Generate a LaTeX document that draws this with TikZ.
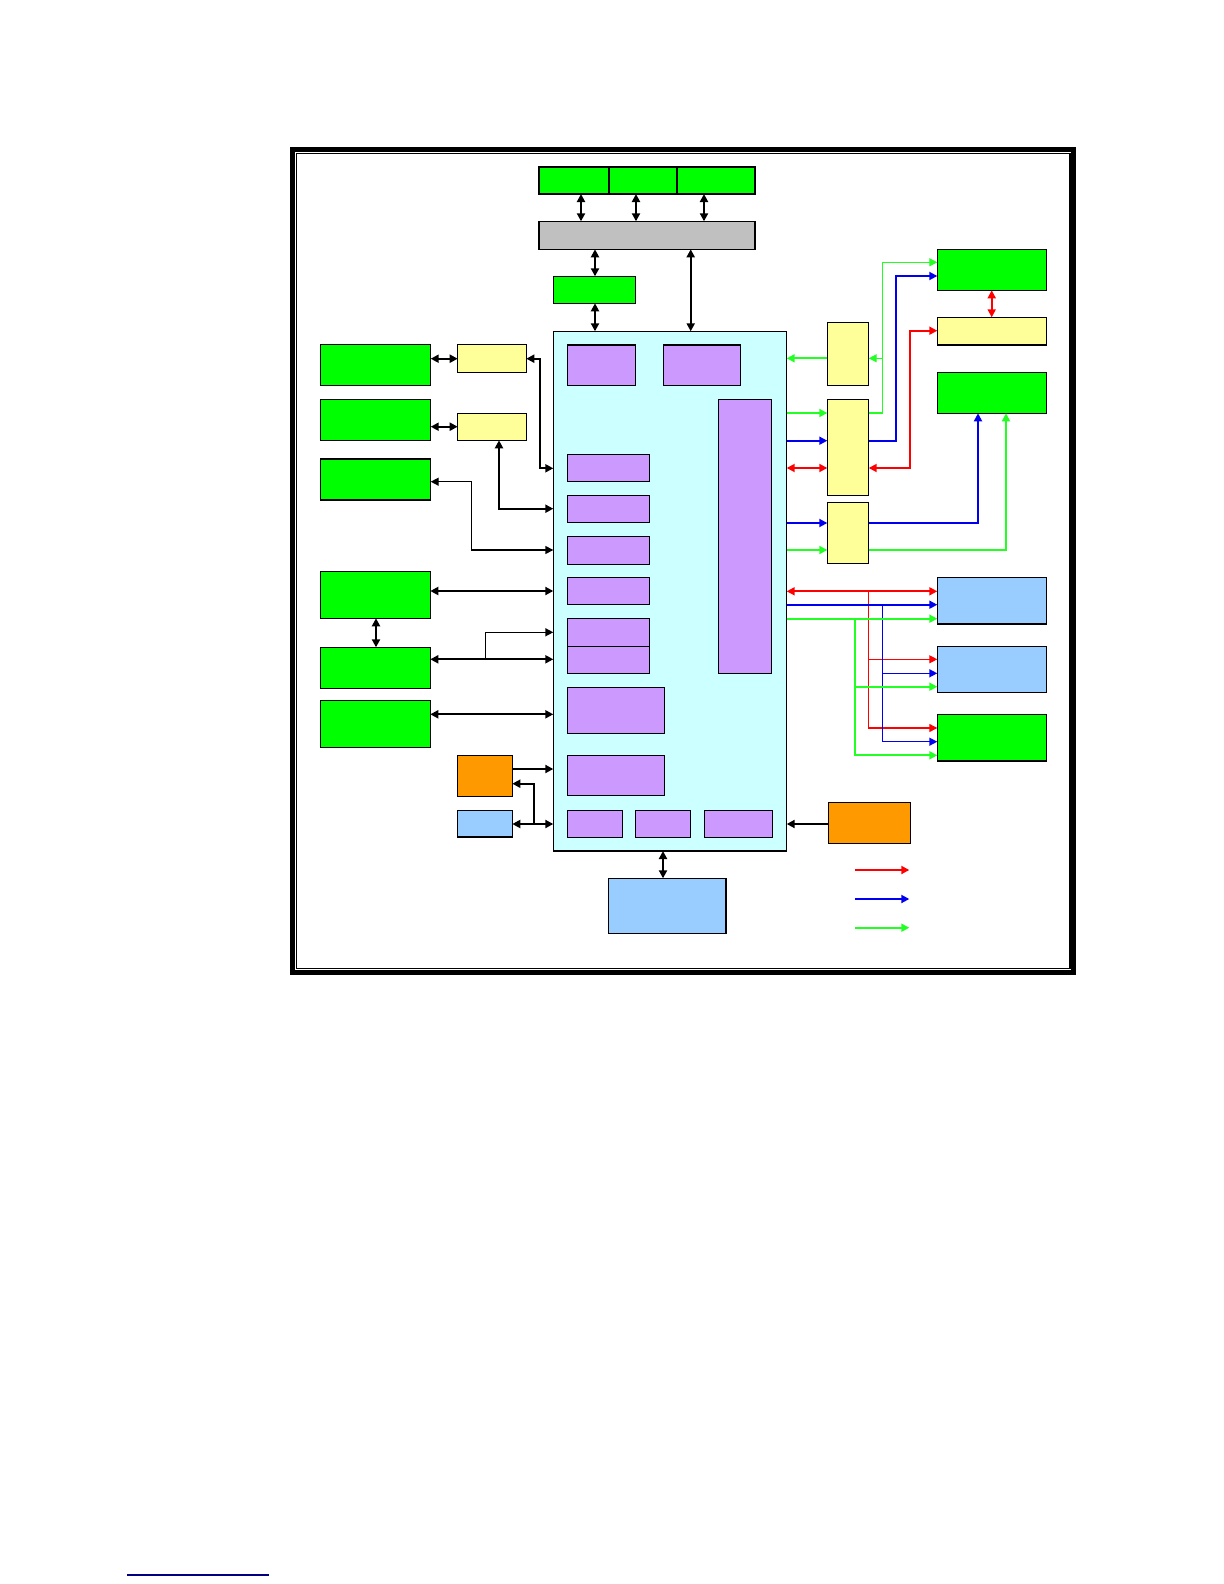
\documentclass[tikz,border=0pt]{standalone}
\usetikzlibrary{arrows.meta}
\definecolor{bgreen}{HTML}{00FF00}
\definecolor{byellow}{HTML}{FFFF99}
\definecolor{bpurple}{HTML}{CC99FF}
\definecolor{bcyan}{HTML}{CCFFFF}
\definecolor{bgray}{HTML}{C0C0C0}
\definecolor{bblue}{HTML}{99CCFF}
\definecolor{borange}{HTML}{FF9900}
\definecolor{lred}{HTML}{FF0000}
\definecolor{lblue}{HTML}{0000EE}
\definecolor{lgreen}{HTML}{22FF22}
\definecolor{navy}{HTML}{000080}
\newcommand\mkbox[6]{%
  \pgfmathsetmacro\mkbw{(#5-#3)*0.5}%
  \pgfmathsetmacro\mkbh{(#6-#4)*0.5}%
  \node[#1, minimum width=\mkbw pt, minimum height=\mkbh pt] (#2) at ({(#3+#5)/2},{(#4+#6)/2}) {};}
\tikzset{
  bx/.style={draw=black, line width=0.6pt, inner sep=0pt, outer sep=0pt, rectangle},
  grn/.style={bx, fill=bgreen},
  yel/.style={bx, fill=byellow},
  pur/.style={bx, fill=bpurple},
  cya/.style={bx, fill=bcyan},
  gry/.style={bx, fill=bgray},
  blu/.style={bx, fill=bblue},
  org/.style={bx, fill=borange},
  >={Triangle[length=4pt,width=4pt]},
  bk/.style={draw=black, line width=1pt},
  bkt/.style={draw=black, line width=0.7pt},
  rd/.style={draw=lred, line width=0.9pt},
  rdt/.style={draw=lred, line width=0.6pt},
  bl/.style={draw=lblue, line width=0.9pt},
  blt/.style={draw=lblue, line width=0.7pt},
  gr/.style={draw=lgreen, line width=0.9pt},
  grt/.style={draw=lgreen, line width=0.6pt},
}
\begin{document}
\begin{tikzpicture}[x=0.5pt,y=-0.5pt]
\useasboundingbox (0,0) rectangle (1224,1584);
% frame
\draw[line width=2.35pt] (292.3,149.3) rectangle (1073.7,972.7);
\draw[line width=0.65pt] (296.7,153.7) rectangle (1070,968.7);
% footer line
\draw[navy, line width=0.65pt] (127,1575) -- (269,1575);
% top
\mkbox{grn}{T1}{539}{167}{609}{194}
\mkbox{grn}{T2}{609}{167}{677}{194}
\mkbox{grn}{T3}{677}{167}{755}{194}
\mkbox{gry}{G}{539}{221.3}{755}{249.3}
\mkbox{grn}{S}{553.3}{276.3}{635.7}{303.3}
% central
\mkbox{cya}{C}{553.3}{331.3}{786.7}{851}
\mkbox{pur}{P1}{567.3}{345}{635.3}{385.4}
\mkbox{pur}{P2}{663.3}{345}{740.3}{385.4}
\mkbox{pur}{PT}{718.3}{399.2}{771.3}{673.3}
\mkbox{pur}{P3}{567.3}{454.3}{649.3}{481.2}
\mkbox{pur}{P4}{567.3}{495.3}{649.3}{522.1}
\mkbox{pur}{P5}{567.3}{536.3}{649.3}{564.1}
\mkbox{pur}{P6}{567.3}{577.2}{649.3}{604.4}
\mkbox{pur}{P7}{567.3}{618.2}{649.3}{646.4}
\mkbox{pur}{P8}{567.3}{646.4}{649.3}{673.3}
\mkbox{pur}{P9}{567.3}{687.4}{664.3}{733.2}
\mkbox{pur}{P10}{567.3}{755.3}{664.3}{795.2}
\mkbox{pur}{P11}{567.3}{810.4}{622.3}{837.2}
\mkbox{pur}{P12}{635.3}{810.4}{690.3}{837.2}
\mkbox{pur}{P13}{704.3}{810.4}{772.3}{837.2}
\mkbox{blu}{BB}{608.3}{878.3}{726}{933.3}
% left
\mkbox{grn}{L1}{320.7}{344.7}{430.7}{385.7}
\mkbox{yel}{Y1}{457.7}{344.7}{526.3}{372.3}
\mkbox{grn}{L2}{320.7}{399.3}{430.7}{440.3}
\mkbox{yel}{Y2}{457.7}{413.3}{526.3}{440.3}
\mkbox{grn}{L3}{320.7}{459}{430.7}{500}
\mkbox{grn}{L4}{320.7}{571.7}{430.3}{618.3}
\mkbox{grn}{L5}{320.7}{647.3}{430.3}{688.3}
\mkbox{grn}{L6}{320.7}{700.3}{430.3}{747.3}
\mkbox{org}{O1}{457.7}{755.3}{512.3}{796.3}
\mkbox{blu}{B1}{457.7}{810.3}{512.3}{837}
% right
\mkbox{yel}{Y3}{827.3}{322.3}{868.7}{385.3}
\mkbox{yel}{Y4}{827.3}{399.3}{868.7}{495.3}
\mkbox{yel}{Y5}{827.3}{502.3}{868.7}{563.5}
\mkbox{grn}{R1}{937.3}{249.3}{1046.3}{290.3}
\mkbox{yel}{RY}{937.3}{317.3}{1046.3}{345}
\mkbox{grn}{R2}{937.3}{372.3}{1046.3}{413.3}
\mkbox{blu}{RB1}{937.3}{577.3}{1046.3}{624}
\mkbox{blu}{RB2}{937.3}{646.3}{1046.3}{692.3}
\mkbox{grn}{R3}{937.3}{714.3}{1046.3}{761}
\mkbox{org}{OR}{828.3}{802.3}{910.3}{843.3}
% top connectors
\draw[bk,<->] (T1.south -| 581,0) -- (G.north -| 581,0);
\draw[bk,<->] (T2.south -| 636,0) -- (G.north -| 636,0);
\draw[bk,<->] (T3.south -| 704,0) -- (G.north -| 704,0);
\draw[bk,<->] (G.south -| 595,0) -- (S.north -| 595,0);
\draw[bk,<->] (S.south -| 595,0) -- (C.north -| 595,0);
\draw[bk,<->] (G.south -| 690.7,0) -- (C.north -| 690.7,0);
\draw[bk,<->] (C.south -| 663,0) -- (BB.north -| 663,0);
% left connectors
\draw[bk,<->] (L1.east |- 0,358.7) -- (Y1.west |- 0,358.7);
\draw[bk,<->] (Y1.east |- 0,358.7) -- (540,358.7) -- (540,468.3) -- (C.west |- 0,468.3);
\draw[bk,<->] (L2.east |- 0,426.7) -- (Y2.west |- 0,426.7);
\draw[bk,<->] (Y2.south -| 499,0) -- (499,508.7) -- (C.west |- 0,508.7);
\draw[bkt,<->] (L3.east |- 0,481.7) -- (471.5,481.7) -- (471.5,550) -- (C.west |- 0,550);
\draw[bk,<->] (L4.east |- 0,591) -- (C.west |- 0,591);
\draw[bk,<->] (L4.south -| 376,0) -- (L5.north -| 376,0);
\draw[bk,<->] (L5.east |- 0,659.3) -- (C.west |- 0,659.3);
\draw[bkt,->] (485.3,659.3) -- (485.3,632.3) -- (C.west |- 0,632.3);
\draw[bk,<->] (L6.east |- 0,714.3) -- (C.west |- 0,714.3);
\draw[bk,->] (O1.east |- 0,769) -- (C.west |- 0,769);
\draw[bk,<->] (B1.east |- 0,824) -- (C.west |- 0,824);
\draw[bk,->] (534,824) -- (534,783.7) -- (O1.east |- 0,783.7);
% right connectors
\draw[rd,<->] (RY.north -| 991.7,0) -- (R1.south -| 991.7,0);
\draw[gr,->] (Y3.west |- 0,358.3) -- (C.east |- 0,358.3);
\draw[grt,->] (Y4.east |- 0,413) -- (882.3,413) -- (882.3,262.3) -- (R1.west |- 0,262.3);
\draw[grt,->] (882.3,358.3) -- (Y3.east |- 0,358.3);
\draw[gr,->] (C.east |- 0,413) -- (Y4.west |- 0,413);
\draw[bl,->] (C.east |- 0,440.7) -- (Y4.west |- 0,440.7);
\draw[rd,<->] (C.east |- 0,468) -- (Y4.west |- 0,468);
\draw[bl,->] (Y4.east |- 0,440.7) -- (895.7,440.7) -- (895.7,276) -- (R1.west |- 0,276);
\draw[rd,<->] (Y4.east |- 0,468) -- (910,468) -- (910,330.7) -- (RY.west |- 0,330.7);
\draw[bl,->] (C.east |- 0,523) -- (Y5.west |- 0,523);
\draw[gr,->] (C.east |- 0,550) -- (Y5.west |- 0,550);
\draw[bl,->] (Y5.east |- 0,523) -- (978,523) -- (R2.south -| 978,0);
\draw[gr,->] (Y5.east |- 0,550) -- (1006,550) -- (R2.south -| 1006,0);
% bus to RB1 / RB2 / R3
\draw[rd,<->] (C.east |- 0,591.3) -- (RB1.west |- 0,591.3);
\draw[rdt,->] (868.7,591.3) -- (868.7,728) -- (R3.west |- 0,728);
\draw[rdt,->] (868.7,659.3) -- (RB2.west |- 0,659.3);
\draw[bl,->] (C.east |- 0,604.7) -- (RB1.west |- 0,604.7);
\draw[blt,->] (882.7,604.7) -- (882.7,741.7) -- (R3.west |- 0,741.7);
\draw[blt,->] (882.7,673.3) -- (RB2.west |- 0,673.3);
\draw[gr,->] (C.east |- 0,618.7) -- (RB1.west |- 0,618.7);
\draw[gr,->] (855.3,618.7) -- (855.3,755.3) -- (R3.west |- 0,755.3);
\draw[gr,->] (855.3,686.7) -- (RB2.west |- 0,686.7);
\draw[bk,->] (OR.west |- 0,824) -- (C.east |- 0,824);
% legend
\coordinate (lr1) at (855.3,870); \coordinate (lr2) at (909.3,870);
\coordinate (lb1) at (855.3,899); \coordinate (lb2) at (909.3,899);
\coordinate (lg1) at (855.3,927.7); \coordinate (lg2) at (909.3,927.7);
\draw[rd,->] (lr1) -- (lr2);
\draw[bl,->] (lb1) -- (lb2);
\draw[gr,->] (lg1) -- (lg2);
\end{tikzpicture}
\end{document}
